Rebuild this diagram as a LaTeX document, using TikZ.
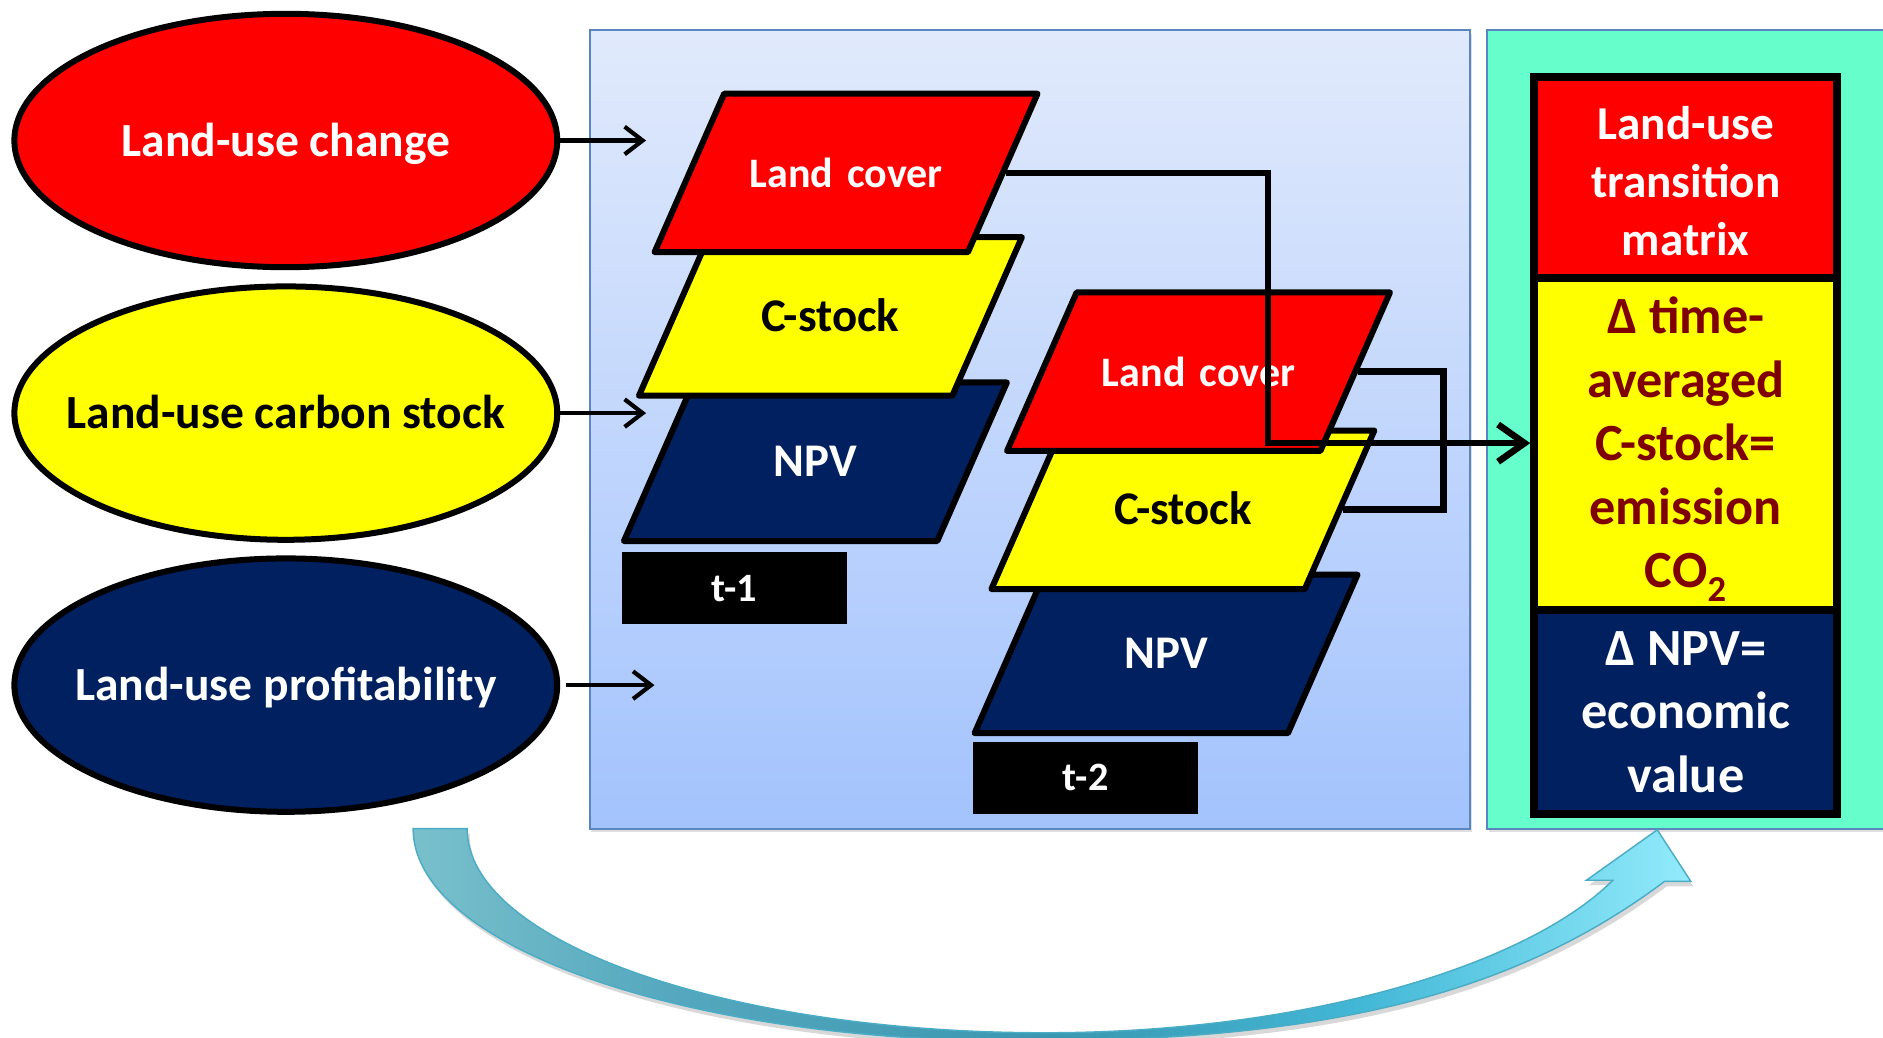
\documentclass[tikz,border=0pt]{standalone}
\usepackage{fontspec}
\setmainfont{Carlito}
\usetikzlibrary{shapes.geometric,arrows.meta,shadows}
\definecolor{luRed}{HTML}{FF0000}
\definecolor{luYel}{HTML}{FFFF00}
\definecolor{luNavy}{HTML}{002060}
\definecolor{luMaroon}{HTML}{7F0000}
\definecolor{bpTop}{HTML}{E1EAFC}
\definecolor{bpBot}{HTML}{A3C3FD}
\definecolor{gpFill}{HTML}{66FFCC}
\definecolor{pnBorder}{HTML}{5A86C0}
\definecolor{caA}{HTML}{79C0CC}
\definecolor{caB}{HTML}{55A8BE}
\definecolor{caC}{HTML}{3A97B0}
\definecolor{caD}{HTML}{42B7D6}
\definecolor{caE}{HTML}{92EBFB}
\definecolor{caLine}{HTML}{4BACC6}
\pgfdeclarehorizontalshading{curvshade}{100bp}{color(0bp)=(caA); color(25bp)=(caA); color(35bp)=(caB); color(50bp)=(caC); color(62bp)=(caD); color(75bp)=(caE); color(100bp)=(caE)}
\newcommand\fEll{\fontsize{39.6}{48}\selectfont\bfseries}
\newcommand\fParaL{\fontsize{35}{42}\selectfont\bfseries}
\newcommand\fParaC{\fontsize{39}{47}\selectfont\bfseries}
\newcommand\fTbox{\fontsize{33.5}{40}\selectfont\bfseries}
\newcommand\fColA{\fontsize{39.3}{48.5}\selectfont\bfseries}
\newcommand\fColB{\fontsize{43.5}{53}\selectfont\bfseries}
\newcommand\ztext[1]{\makebox[0pt]{#1}}
\begin{document}
\begin{tikzpicture}[x=1pt,y=-1pt,
  ell/.style={ellipse, draw=black, line width=5pt, minimum width=452pt, minimum height=211pt, inner sep=0pt, text height=26pt, text depth=0pt, font=\fEll},
  para/.style={trapezium, trapezium left angle=66.3, trapezium right angle=113.7, draw=black, line width=5pt, line join=round, inner xsep=6.5pt, inner ysep=48.5pt, text width=190pt, align=center, text height=30pt, text depth=5pt, font=\fParaC},
  inarrow/.style={line width=3.5pt, -{Straight Barb[length=15pt,width=23pt]}},
  link/.style={line width=5.5pt},
  bigarrow/.style={line width=5.5pt, -{Straight Barb[length=22pt,width=31pt]}},
  tbox/.style={rectangle, fill=black, text=white, minimum width=187pt, minimum height=60pt, inner sep=0pt, font=\fTbox},
  colbox/.style={rectangle, draw=black, line width=6.5pt, minimum width=252.5pt, inner sep=0pt},
  coltext/.style={align=center, inner sep=0pt},
  panel/.style={rectangle, draw=pnBorder, line width=1.8pt, inner sep=0pt, drop shadow={opacity=0.25, shadow xshift=1.5pt, shadow yshift=-3pt}}
]
\useasboundingbox (0,0) rectangle (1568,864);
\clip (0,0) rectangle (1568,864);
\fill[white] (0,0) rectangle (1568,864);

% panels
\node[panel, top color=bpTop, bottom color=bpBot, minimum width=733pt, minimum height=665pt] (model) at (857.5,357.5) {};
\node[panel, fill=gpFill, minimum width=362pt, minimum height=665pt] (result) at (1419,357.5) {};

% curved feedback arrow
\path[draw=caLine, line width=1.2pt, shading=curvshade,
      drop shadow={opacity=0.3, shadow xshift=2pt, shadow yshift=-4pt}]
  (344,690) .. controls (344,788) and (570,867) .. (850,867)
  .. controls (1100,867) and (1258,830) .. (1386,734)
  -- (1408,734) -- (1380,691) -- (1321,733) -- (1343,733)
  .. controls (1273,803) and (1090,860) .. (870,860)
  .. controls (604,860) and (389,784) .. (389,690) -- cycle;

% drivers
\node[ell, fill=luRed, text=white] (luc) at (238,117) {\ztext{Land-use change}};
\node[ell, fill=luYel, text=black] (lucs) at (238,344) {\ztext{Land-use carbon stock}};
\node[ell, fill=luNavy, text=white] (lup) at (238,570.5) {\ztext{Land-use profitability}};
\coordinate (a1) at (538,117);
\coordinate (a2) at (538,344);
\coordinate (a3) at (545,570.5);
\draw[inarrow] (luc.east) -- (a1);
\draw[inarrow] (lucs.east) -- (a2);
\draw[inarrow] ([xshift=5pt]lup.east) -- (a3);

% stack t-1
\node[para, fill=luNavy, text=white] (npv1) at (679,384.5) {NPV};
\node[para, fill=luYel, text=black] (cs1) at (691.5,263.5) {C-stock};
\node[para, fill=luRed, text=white, font=\fParaL] (lc1) at (704.5,144) {Land cover};
\node[tbox] (t1) at (611.5,490) {t-1};

% stack t-2
\node[para, fill=luNavy, text=white] (npv2) at (971,544.5) {NPV};
\node[para, fill=luYel, text=black] (cs2) at (985,424.5) {C-stock};
\node[para, fill=luRed, text=white, font=\fParaL] (lc2) at (998,309.5) {Land cover};
\node[tbox] (t2) at (904,647.5) {t-2};

% result column
\node[colbox, fill=luRed, minimum height=167.7pt] (lut) at (1403.75,147.65) {};
\node[coltext, text=white, font=\fColA] (lutt) at (1403.75,151) {Land-use\\transition\\matrix};
\node[colbox, fill=luYel, minimum height=276.5pt] (dco) at (1403.75,369.75) {};
\node[coltext, text=luMaroon, font=\fColB] (dcot) at (1403.75,374) {Δ time-\\averaged\\C-stock=\\emission\\CO\textsubscript{2}};
\node[colbox, fill=luNavy, minimum height=170pt] (dnpv) at (1403.75,593) {};
\node[coltext, text=white, font=\fColB] (dnpvt) at (1403.75,593) {Δ NPV=\\economic\\value};

% connectors
\coordinate (j1) at (1056,369);
\coordinate (b2) at (1202,309.5);
\draw[link] (lc2.east) -| (b2) |- (cs2.east);
\draw[bigarrow] (lc1.east) -| (j1) -- (j1 -| dco.west);
\end{tikzpicture}
\end{document}
